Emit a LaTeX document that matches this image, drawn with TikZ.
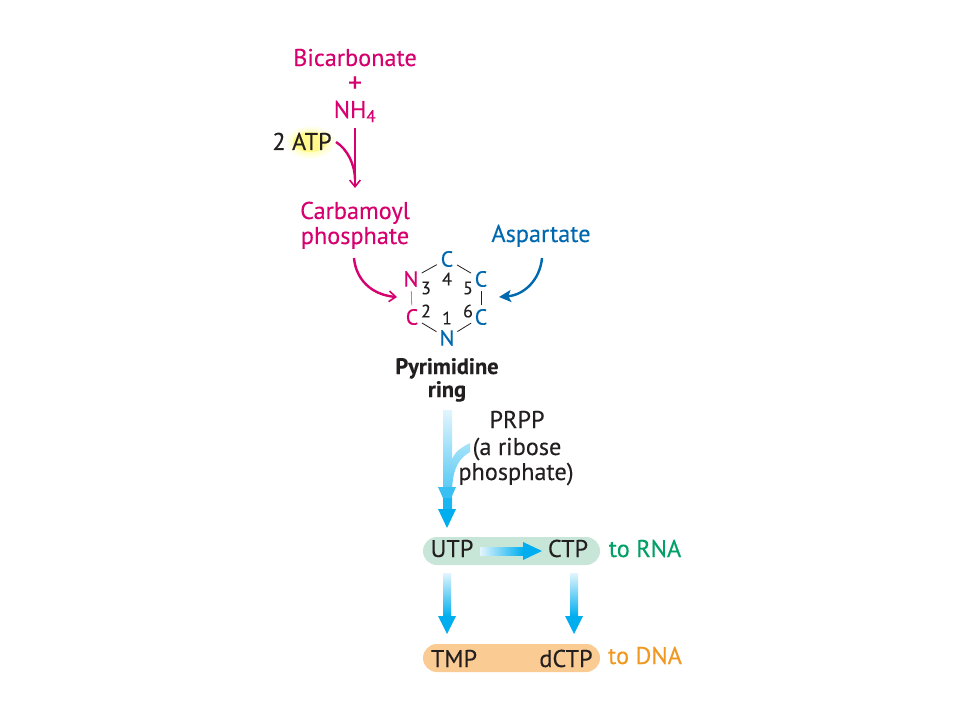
\documentclass[tikz,border=0pt]{standalone}
\usepackage{fontspec}
\setmainfont[FakeBold=0.15]{PT Sans}
\newfontfamily\boldfam[FakeBold=0.35]{PT Sans Bold}
\usetikzlibrary{arrows.meta,calc}
\definecolor{mag}{HTML}{D6006E}
\definecolor{blu}{HTML}{0068AE}
\definecolor{cya}{HTML}{00AEEF}
\definecolor{pale}{HTML}{E2F5FD}
\definecolor{grn}{HTML}{00A066}
\definecolor{org}{HTML}{F0981F}
\definecolor{pillg}{HTML}{C8E6D8}
\definecolor{pillo}{HTML}{FBCB94}
\definecolor{ink}{HTML}{231F20}
\tikzset{x=0.75pt,y=-0.75pt,
 lab/.style={font=\fontsize{18.2}{18}\selectfont,anchor=base,inner sep=0pt,text=#1},
 lab/.default=ink,
 atom/.style={font=\fontsize{16.5}{16}\selectfont,circle,inner sep=0.6pt,text=#1},
 num/.style={font=\fontsize{13.5}{13}\selectfont,inner sep=0pt,text=ink},
 bond/.style={draw=#1,line width=0.6pt},
 bold/.style={font=\fontsize{16.8}{16}\boldfam\selectfont,anchor=base,inner sep=0pt,text=ink},
 curvearrow/.style={draw=#1,line width=1.8pt,-{Straight Barb[length=5pt,width=8pt,line width=1.2pt]}},
 flow/.style={draw=none,top color=pale,bottom color=cya},
}
\begin{document}
\begin{tikzpicture}
\useasboundingbox (0,0) rectangle (960,720);
\fill[white] (0,0) rectangle (960,720);
% pills
\fill[pillg,rounded corners=10.5pt] (423,537) rectangle (600,565);
\fill[pillo,rounded corners=10.5pt] (423,644) rectangle (600,672);
% highlight
\shade[inner color=yellow!60!white,outer color=white] (310,142) ellipse [x radius=26,y radius=17];
\fill[yellow!45!white] (310,142) ellipse [x radius=17,y radius=10];
% labels
\node[lab=mag] (bic) at (355,66) {Bicarbonate};
\node[lab=mag,font=\fontsize{21}{20}\selectfont] (plus) at (355,92) {+};
\node[lab=mag] (nh) at (355,118) {NH\textsubscript{4}};
\node[lab] (atp) at (302,150) {2 ATP};
\node[lab=mag] (car) at (355,219) {Carbamoyl};
\node[lab=mag] (pho) at (355,244) {phosphate};
\node[lab=blu] (asp) at (541,242) {Aspartate};
% ring
\node[atom=blu] (c4) at (447,259) {C};
\node[atom=mag] (n3) at (411,279) {N};
\node[atom=blu] (c5) at (481,279) {C};
\node[atom=blu] (c6) at (481,317) {C};
\node[atom=mag] (c2) at (412,317) {C};
\node[atom=blu] (n1) at (447,338) {N};
\node[num] (d4) at (447,279) {4};
\node[num] (d3) at (426,288) {3};
\node[num] (d5) at (468,288) {5};
\node[num] (d2) at (426,311) {2};
\node[num] (d6) at (468,311) {6};
\node[num] (d1) at (447,318) {1};
\draw[bond=ink] (n3) -- (c4);
\draw[bond=ink] (c4) -- (c5);
\draw[bond=ink] (c5) -- (c6);
\draw[bond=ink] (c6) -- (n1);
\draw[bond=ink] (n1) -- (c2);
\draw[bond=mag!60!white] (c2) -- (n3);
\node[bold] (pyr) at (447,374) {Pyrimidine};
\node[bold] (rng) at (447,397) {ring};
\node[lab] (prpp) at (517,428) {PRPP};
\node[lab] (rib) at (517,455) {(a ribose};
\node[lab] (phs) at (516,480) {phosphate)};
\node[lab] (utp) at (452,557) {UTP};
\node[lab] (ctp) at (568,557) {CTP};
\node[lab=grn] (trna) at (645,557) {to RNA};
\node[lab] (tmp) at (454,667) {TMP};
\node[lab] (dctp) at (566,667) {dCTP};
\node[lab=org] (tdna) at (645,664) {to DNA};
% magenta arrows
\coordinate (a0) at (355,128);
\coordinate (a1) at (355,188);
\coordinate (m0) at (336,142);
\coordinate (m1) at (355,180);
\draw[curvearrow=mag] (a0) -- (a1);
\draw[draw=mag,line width=1.8pt] (m0) .. controls (347,149) and (355,164) .. (m1);
\coordinate (k0) at (354,258);
\coordinate (k1) at (397,297);
\draw[curvearrow=mag] (k0) .. controls (356,280) and (372,295) .. (k1);
\coordinate (s0) at (542,258);
\coordinate (s1) at (499,297);
\draw[draw=blu,line width=1.8pt,-{Stealth[length=9pt,width=9pt,inset=2pt]}] (s0) .. controls (540,280) and (524,295) .. (s1);
% big flow arrow with branch
\shade[flow,bottom color=cya!80!white] (443,410) -- (452,410) -- (452,460) .. controls (454,452) and (462,447) .. (470,443) -- (470,452) .. controls (460,458) and (453,466) .. (452,490) -- (452,510) -- (443,510) -- cycle;
\fill[cya!78!white] (438,487) -- (456,487) -- (447,507) -- cycle;
\fill[cya!90!white] (443,498) rectangle (452,512);
\fill[cya] (438,509) -- (456,509) -- (447,528) -- cycle;
% UTP to CTP
\coordinate (h0) at (480,551);
\coordinate (h1) at (542,551);
\shade[left color=pale,right color=cya,draw=none] (480,547) rectangle (523,555);
\fill[cya] (523,542) -- (h1) -- (523,560) -- cycle;
% down arrows
\coordinate (u0) at (447,573);
\coordinate (u1) at (447,634);
\shade[top color=pale,bottom color=cya,draw=none] (443,573) rectangle (451,616);
\fill[cya] (438,616) -- (456,616) -- (u1) -- cycle;
\coordinate (v0) at (574,573);
\coordinate (v1) at (574,634);
\shade[top color=pale,bottom color=cya,draw=none] (570,573) rectangle (578,616);
\fill[cya] (565,616) -- (583,616) -- (v1) -- cycle;
\end{tikzpicture}
\end{document}
